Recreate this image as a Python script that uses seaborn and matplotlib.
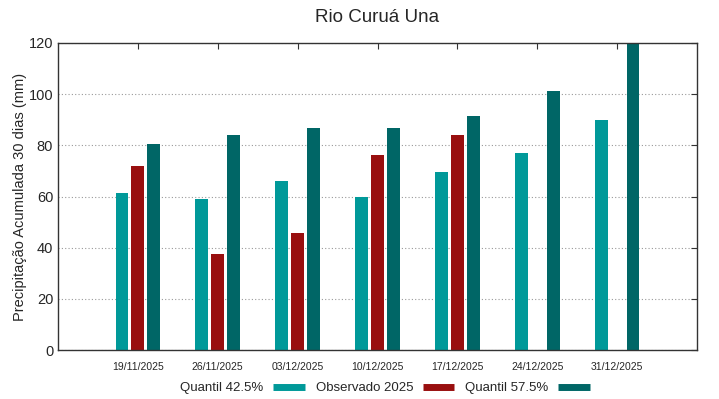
import pandas as pd
import numpy as np
import matplotlib
matplotlib.use("Agg")
import matplotlib.pyplot as plt
import seaborn as sns
from matplotlib.lines import Line2D

# values
datas = ["19/11/2025", "26/11/2025", "03/12/2025", "10/12/2025",
         "17/12/2025", "24/12/2025", "31/12/2025"]
quantil_425 = [61.4, 59.2, 66.2, 59.9, 69.6, 77.0, 89.9]
observado_2025 = [72.1, 37.5, 45.9, 76.1, 83.9, np.nan, np.nan]
quantil_575 = [80.6, 84.2, 86.7, 86.7, 91.3, 101.4, 121.0]

series = ["Quantil 42.5%", "Observado 2025", "Quantil 57.5%"]
cores = ["#009999", "#990F0F", "#006666"]

df = pd.DataFrame({"Data": datas, series[0]: quantil_425,
                   series[1]: observado_2025, series[2]: quantil_575})
df_long = df.melt(id_vars="Data", var_name="Serie", value_name="Valor")

sns.set_style("white")
plt.rcParams['font.family'] = ['Liberation Sans', 'DejaVu Sans']

fig = plt.figure(figsize=(7.19, 3.99), dpi=100)
ax = fig.add_axes([58 / 719, 1 - 350 / 399, 639 / 719, 307 / 399])

ax.yaxis.grid(True, linestyle=(0, (1, 2)), color="#999999", linewidth=0.8)
ax.set_axisbelow(True)

sns.barplot(data=df_long, x="Data", y="Valor", hue="Serie", order=datas,
            hue_order=series, palette=cores, saturation=1, width=0.6, gap=0.2,
            edgecolor="none", legend=False, ax=ax)

ax.set_xlim(-1, 7)
ax.set_ylim(0, 120)
ax.set_yticks(range(0, 121, 20))
ax.set_xlabel("")
ax.set_ylabel("Precipitação Acumulada 30 dias (mm)", fontsize=10.5, labelpad=1)
ax.set_title("Rio Curuá Una", fontsize=13.5, pad=15)

ax.tick_params(axis="y", direction="in", right=True, labelsize=10.5,
               length=4, color="#333333", pad=3.5)
ax.tick_params(axis="x", direction="in", top=True, labelsize=7.5,
               length=4, color="#333333", pad=9)
for s in ax.spines.values():
    s.set_color("#333333")
    s.set_linewidth(1)

handles = [Line2D([0], [0], color=c, lw=5, solid_capstyle="butt") for c in cores]
fig.legend(handles, series, loc="center", bbox_to_anchor=(385 / 719, 1 - 388 / 399),
           ncol=3, frameon=False, markerfirst=False, handlelength=2.4,
           columnspacing=0.85, handletextpad=0.7, fontsize=9.5)

fig.savefig("out.png", dpi=100)
